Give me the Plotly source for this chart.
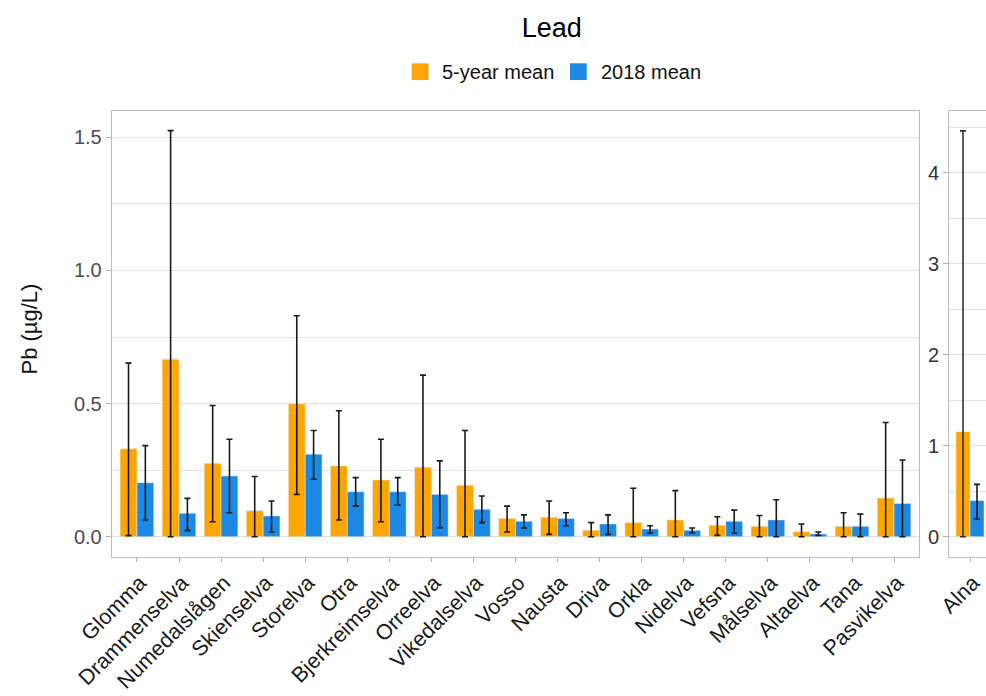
import plotly.graph_objects as go

# Lead (Pb) concentrations per river: 5-year mean and 2018 mean, with min/max ranges
rivers = ["Glomma", "Drammenselva", "Numedalslågen", "Skienselva", "Storelva", "Otra",
          "Bjerkreimselva", "Orreelva", "Vikedalselva", "Vosso", "Nausta", "Driva",
          "Orkla", "Nidelva", "Vefsna", "Målselva", "Altaelva", "Tana", "Pasvikelva"]

mean_5yr = [0.33, 0.667, 0.276, 0.098, 0.499, 0.266, 0.213, 0.261, 0.193, 0.068,
            0.073, 0.024, 0.053, 0.063, 0.043, 0.039, 0.019, 0.039, 0.145]
low_5yr = [0.004, 0.0, 0.056, 0.0, 0.159, 0.063, 0.056, 0.0, 0.0, 0.018,
           0.009, 0.0, 0.0, 0.0, 0.005, 0.0, 0.0, 0.0, 0.0]
high_5yr = [0.652, 1.525, 0.493, 0.226, 0.830, 0.473, 0.366, 0.607, 0.399, 0.115,
            0.134, 0.053, 0.182, 0.173, 0.075, 0.080, 0.048, 0.090, 0.429]

mean_2018 = [0.203, 0.088, 0.228, 0.078, 0.310, 0.169, 0.169, 0.159, 0.103, 0.058,
             0.068, 0.048, 0.029, 0.024, 0.058, 0.063, 0.010, 0.039, 0.125]
low_2018 = [0.063, 0.023, 0.090, 0.018, 0.216, 0.115, 0.119, 0.034, 0.053, 0.033,
            0.041, 0.009, 0.014, 0.014, 0.013, 0.0, 0.005, 0.0, 0.0]
high_2018 = [0.342, 0.144, 0.366, 0.134, 0.399, 0.222, 0.222, 0.285, 0.153, 0.082,
             0.090, 0.082, 0.041, 0.033, 0.100, 0.139, 0.018, 0.085, 0.288]

# Alna is shown in its own panel on a separate scale
alna_river = ["Alna"]
alna_5yr, alna_5yr_low, alna_5yr_high = [1.154], [0.0], [4.458]
alna_2018, alna_2018_low, alna_2018_high = [0.396], [0.194], [0.575]

series_names = ["5-year mean", "2018 mean"]
ORANGE = "#FFA500"
BLUE = "#1E88E5"
FONT = "Liberation Sans, Arial, sans-serif"
W, H = 986, 696


def err(mean, lo, hi, color="#1a1a1a"):
    return dict(type="data", symmetric=False,
                array=[h - m for m, h in zip(mean, hi)],
                arrayminus=[m - l for m, l in zip(mean, lo)],
                color=color, thickness=1.6, width=3)


fig = go.Figure()
fig.add_trace(go.Bar(x=rivers, y=mean_5yr, name=series_names[0], marker_color=ORANGE,
                     offsetgroup="a", error_y=err(mean_5yr, low_5yr, high_5yr),
                     xaxis="x", yaxis="y", showlegend=False))
fig.add_trace(go.Bar(x=rivers, y=mean_2018, name=series_names[1], marker_color=BLUE,
                     offsetgroup="b", error_y=err(mean_2018, low_2018, high_2018),
                     xaxis="x", yaxis="y", showlegend=False))
fig.add_trace(go.Bar(x=alna_river, y=alna_5yr, name=series_names[0], marker_color=ORANGE,
                     offsetgroup="a", error_y=err(alna_5yr, alna_5yr_low, alna_5yr_high, "#333333"),
                     xaxis="x2", yaxis="y2", showlegend=False))
fig.add_trace(go.Bar(x=alna_river, y=alna_2018, name=series_names[1], marker_color=BLUE,
                     offsetgroup="b", error_y=err(alna_2018, alna_2018_low, alna_2018_high),
                     xaxis="x2", yaxis="y2", showlegend=False))

px = lambda v: v / W
py = lambda v: 1 - v / H

panel_top, panel_bottom = 110.7, 556.7
grid = "#E0E0E0"
border = "#BDBDBD"

common_x = dict(type="category", showgrid=False, ticks="outside", ticklen=4,
                tickcolor="#B0B0B0", tickwidth=1, tickangle=-45, ticklabelshift=3,
                tickfont=dict(family=FONT, size=21.5, color="#1a1a1a"),
                showline=True, linecolor=border, linewidth=1, mirror=True,
                automargin=False, zeroline=False)
common_y = dict(showgrid=True, gridcolor=grid, gridwidth=1, ticks="outside", ticklen=5,
                tickcolor="#B0B0B0", tickwidth=1,
                showline=True, linecolor=border, linewidth=1,
                zeroline=False, automargin=False,
                domain=[py(panel_bottom), py(panel_top)])

fig.update_layout(
    width=W, height=H,
    margin=dict(l=0, r=0, t=0, b=0),
    paper_bgcolor="white", plot_bgcolor="white",
    barmode="group", bargap=0.2, bargroupgap=0,
    font=dict(family=FONT),
    title=dict(text="Lead", x=px(551.7), xanchor="center", xref="paper",
               y=py(28), yanchor="middle", yref="paper",
               font=dict(family=FONT, size=27, color="#000000")),
    xaxis=dict(common_x, domain=[px(111.7), px(919.3)], range=[-0.6, len(rivers) - 0.4],
               anchor="y", categoryorder="array", categoryarray=rivers),
    yaxis=dict(common_y, anchor="x", range=[-0.075, 1.60], tickvals=[0, 0.5, 1.0, 1.5],
               ticktext=["0.0", "0.5", "1.0", "1.5"], mirror=True,
               tickfont=dict(family=FONT, size=20, color="#4D4D4D"),
               minor=dict(tickvals=[0.25, 0.75, 1.25], showgrid=True, gridcolor=grid,
                          gridwidth=1, ticks="")),
    xaxis2=dict(common_x, domain=[px(949.0), 1.0], range=[-0.6, -0.6 + 37.0 / 35.0],
                anchor="y2"),
    yaxis2=dict(common_y, anchor="x2", range=[-0.22, 4.68], tickvals=[0, 1, 2, 3, 4],
                mirror=False,
                tickfont=dict(family=FONT, size=20, color="#333333"),
                minor=dict(tickvals=[0.5, 1.5, 2.5, 3.5, 4.5], showgrid=True,
                           gridcolor=grid, gridwidth=1, ticks="")),
)

# Y-axis title
fig.add_annotation(text="Pb (µg/L)", textangle=-90, x=px(29.5), y=py(329),
                   xref="paper", yref="paper", xanchor="center", yanchor="middle",
                   showarrow=False, font=dict(family=FONT, size=22, color="#111111"))

# Legend: coloured keys with labels, centred under the title
legend_items = [(series_names[0], ORANGE, 411.7), (series_names[1], BLUE, 570.0)]
for name, color, x0 in legend_items:
    fig.add_shape(type="rect", xref="paper", yref="paper",
                  x0=px(x0), x1=px(x0 + 16.7), y0=py(80.0), y1=py(63.3),
                  fillcolor=color, line=dict(width=0))
    fig.add_annotation(text=name, x=px(x0 + 28.5), y=py(72.0), xref="paper", yref="paper",
                       xanchor="left", yanchor="middle", showarrow=False,
                       font=dict(family=FONT, size=20, color="#111111"))

fig.write_html("out.html")
